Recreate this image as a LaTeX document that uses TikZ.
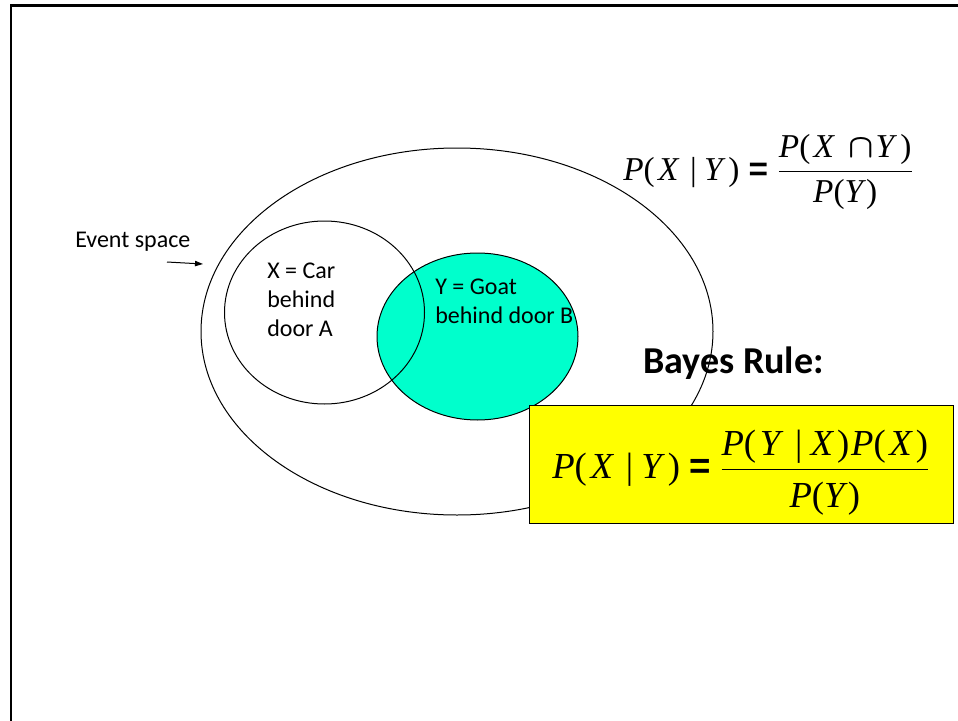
\documentclass[tikz,border=0pt]{standalone}
\usepackage{amsmath}
\usepackage{fontspec}
\usepackage{tikz}
\usetikzlibrary{arrows.meta,positioning,shapes.geometric}
\setmainfont{Carlito}
\newfontfamily\tnr{Liberation Serif}
\newfontfamily\eqfont{Liberation Sans}
\definecolor{ink}{HTML}{000000}
\definecolor{goat}{HTML}{00FFCC}
\definecolor{bayesyellow}{HTML}{FFFF00}
\newcommand{\itv}[1]{\textit{#1}}
\newcommand{\lp}{(\hspace{0.1em}}
\newcommand{\rp}{\hspace{0.08em})}
\newcommand{\condbar}{\hspace{0.32em}|\hspace{0.22em}}
\newcommand{\eqs}{\mathrel{\mbox{\eqfont\bfseries =}}}
\tikzset{
  region/.style={draw=ink, ellipse, inner sep=0pt, line width=0.75pt},
  slidetext/.style={font=\fontsize{18}{21.75}\selectfont, align=left, inner sep=0pt},
  formula/.style={font=\tnr\fontsize{25}{30}\selectfont, inner sep=0pt},
  arrow/.style={-{Triangle[length=6pt,width=4pt]}, line width=0.75pt, draw=ink}
}

\begin{document}
\begin{tikzpicture}[x=0.75pt,y=-0.75pt]
    \useasboundingbox (0,0) rectangle (958,721);
    % slide frame
    \draw[ink,line width=2pt] (11,721) -- (11,5.5) -- (958,5.5);

    % event space and the two events
    \node[region, minimum width=384pt, minimum height=275.25pt] (space) at (457,331.5) {};
    \node[region, fill=goat, minimum width=150.75pt, minimum height=125.25pt] (goatB) at (477.5,336.5) {};
    \node[region, minimum width=150pt, minimum height=137.25pt] (carA) at (324.5,312.5) {};

    \node[slidetext, anchor=base west] (evtxt) at (75,247) {Event space};
    \coordinate (evtail) at (167,262);
    \coordinate (evtip) at (203,264);
    \draw[arrow] (evtail) -- (evtip);

    % base of a multi-line node is its last line
    \node[slidetext, anchor=base west] (cartxt) at (267,336) {X = Car\\behind\\door A};
    \node[slidetext, anchor=base west] (goattxt) at (435,323) {Y = Goat\\behind door B};

    % conditional probability
    \node[formula, anchor=base west] (condprob) at (623,180)
      {$\mbox{\itv{P}\lp\itv{X}\condbar\itv{Y}\rp}\eqs\dfrac{\mbox{\itv{P}\lp\itv{X}\hspace{0.4em}$\boldsymbol{\cap}$\hspace{0.05em}\itv{Y}\hspace{0.1em})}}{\mbox{\itv{P}(\itv{Y})}}$};

    % Bayes rule
    \node[font=\bfseries\fontsize{28.5}{34}\selectfont, inner sep=0pt, anchor=base west] (rulename) at (643,373) {Bayes Rule:};
    \node[draw=ink, fill=bayesyellow, line width=0.75pt, inner sep=0pt,
          minimum width=318pt, minimum height=88.5pt] (rulebox) at (741,464) {};
    \node[formula, font=\tnr\fontsize{27.5}{33}\selectfont, anchor=base west] (bayes) at (552,478)
      {$\mbox{\itv{P}\lp\itv{X}\condbar\itv{Y}\rp}\eqs\dfrac{\mbox{\itv{P}\lp\itv{Y}\condbar\itv{X}\rp\hspace{0.05em}\itv{P}\lp\itv{X}\rp}}{\mbox{\raisebox{-5pt}{\itv{P}(\itv{Y})}}}$};
  \end{tikzpicture}
\end{document}
